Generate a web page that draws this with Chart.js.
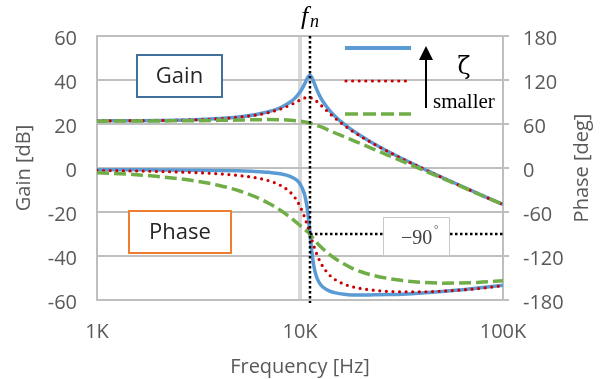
<!DOCTYPE html>
<html>
<head>
<meta charset="utf-8">
<script src="https://cdn.jsdelivr.net/npm/chart.js@4.4.1/dist/chart.umd.min.js"></script>
<style>
html,body{margin:0;padding:0;background:#ffffff;}
#wrap{width:603px;height:379px;position:relative;}
</style>
</head>
<body>
<div id="wrap"><canvas id="c" width="603" height="379"></canvas></div>
<script>
// ---------- data ----------
const freqHz = [1000,1500,2000,3000,4000,5000,6000,7000,8000,9000,9500,10000,10500,10800,11000,11200,11400,11700,12000,12500,13000,14000,15000,16500,18000,20000,23000,27000,32000,40000,50000,60000,75000,100000];

const gainBlue  = [21.4,21.5,21.6,21.9,22.5,23.2,24.2,25.6,27.4,30.1,32.0,34.5,37.9,40.4,41.7,42.2,41.4,39.0,36.4,32.8,30.1,26.1,23.2,19.9,17.3,14.5,11.1,7.6,4.2,-0.1,-4.2,-7.5,-11.5,-16.6];
const gainRed   = [21.4,21.5,21.6,21.9,22.4,23.1,24.0,25.2,26.8,28.7,29.8,30.9,31.8,32.0,32.1,32.0,31.8,31.2,30.5,29.1,27.6,24.8,22.4,19.4,16.9,14.3,11.0,7.6,4.1,-0.1,-4.3,-7.6,-11.6,-16.6];
const gainGreen = [21.3,21.35,21.4,21.5,21.65,21.8,21.95,22.0,21.95,21.7,21.5,21.3,21.0,20.8,20.6,20.45,20.2,19.9,19.5,18.9,18.3,17.0,15.8,14.2,12.8,11.0,8.6,5.9,3.0,-0.8,-4.6,-7.8,-11.7,-16.6];

const phaseBlue  = [-2.3,-2.4,-2.6,-2.9,-3.3,-3.9,-4.7,-5.9,-7.9,-11.7,-15.3,-21.6,-34.8,-50.8,-67.9,-89.7,-111.2,-133.7,-146.5,-157.2,-162.6,-167.8,-170.3,-172.2,-173.1,-173.3,-173.0,-172.6,-172.0,-170.5,-168.5,-166.5,-163.5,-160.0];
const phaseRed   = [-3.3,-4.0,-4.7,-6.2,-8.0,-10.3,-13.2,-17.3,-23.5,-33.7,-41.5,-52.1,-66.0,-75.8,-82.7,-89.7,-96.6,-106.3,-114.9,-126.5,-135.0,-146.2,-152.7,-158.5,-161.8,-164.5,-166.7,-168.2,-168.8,-168.8,-167.9,-166.7,-164.5,-160.5];
const phaseGreen = [-6.5,-8.8,-11.6,-17.4,-23.8,-31.0,-39.0,-48.0,-57.5,-68.0,-73.2,-78.3,-83.2,-86.0,-87.9,-89.7,-93.0,-97.0,-100.5,-106.0,-110.5,-118.0,-124.0,-131.0,-136.5,-141.5,-146.5,-150.5,-153.5,-156.0,-157.0,-156.8,-156.0,-153.8];

const xTickValues = [1000, 10000, 100000];
const xTickLabels = ['1K', '10K', '100K'];
const fnHz = 11200;
const refPhase = -90;

// ---------- styles ----------
const FONT = "'Open Sans', sans-serif";
const SERIF = "'Liberation Serif', 'DejaVu Serif', serif";
const TXT = '#595959';
const GRID = '#bfbfbf';
const BLUE = '#5b9bd5', RED = '#cc0000', GREEN = '#70ad47';

function pts(ys){ return freqHz.map((f,i)=>({x:f, y:ys[i]})); }

const styleBlue  = {borderColor:BLUE, borderWidth:3.5, order:2};
const styleRed   = {borderColor:RED, borderWidth:3.2, borderDash:[0,6.6], borderCapStyle:'round', order:1};
const styleGreen = {borderColor:GREEN, borderWidth:3.5, borderDash:[12,5], borderCapStyle:'butt', order:0};
const common = {pointRadius:0, fill:false, cubicInterpolationMode:'monotone'};

const annot = {
  id:'annot',
  afterDatasetsDraw(chart){
    const {ctx, chartArea:ca, scales} = chart;
    const xs = scales.x, y1 = scales.y1;
    const xf = xs.getPixelForValue(fnHz);
    const yp = y1.getPixelForValue(refPhase);
    ctx.save();
    // dotted guide lines
    ctx.strokeStyle = '#000';
    ctx.lineWidth = 2.5;
    ctx.setLineDash([2.5,2.5]);
    ctx.beginPath(); ctx.moveTo(xf, ca.top); ctx.lineTo(xf, ca.bottom+3); ctx.stroke();
    ctx.beginPath(); ctx.moveTo(xf, yp); ctx.lineTo(ca.right, yp); ctx.stroke();
    ctx.setLineDash([]);

    // -90 label box
    ctx.fillStyle = '#fff';
    ctx.fillRect(383, 217, 66, 38);
    ctx.strokeStyle = '#c8c8c8'; ctx.lineWidth = 1;
    ctx.strokeRect(383.5, 217.5, 66, 38);
    ctx.fillStyle = '#404040';
    ctx.font = '20px ' + SERIF;
    ctx.textAlign = 'left'; ctx.textBaseline = 'alphabetic';
    ctx.fillText('\u221290', 401, 244);
    ctx.font = '11px ' + SERIF;
    ctx.fillText('\u00b0', 434, 233);

    // Gain box
    ctx.fillStyle = '#fff';
    ctx.fillRect(137, 55, 85, 42);
    ctx.strokeStyle = '#41719c'; ctx.lineWidth = 2;
    ctx.strokeRect(137, 55, 85, 42);
    ctx.fillStyle = '#262626';
    ctx.font = '22px ' + FONT;
    ctx.textAlign = 'center'; ctx.textBaseline = 'middle';
    ctx.fillText('Gain', 179.5, 77);

    // Phase box
    ctx.fillStyle = '#fff';
    ctx.fillRect(129, 211, 102, 42);
    ctx.strokeStyle = '#ed7d31'; ctx.lineWidth = 2;
    ctx.strokeRect(129, 211, 102, 42);
    ctx.fillStyle = '#262626';
    ctx.fillText('Phase', 180, 233);

    // f_n label
    ctx.fillStyle = '#000';
    ctx.textAlign = 'left'; ctx.textBaseline = 'alphabetic';
    ctx.font = 'italic 26px ' + SERIF;
    ctx.fillText('f', xf - 9, 24);
    ctx.font = 'italic 18px ' + SERIF;
    ctx.fillText('n', xf + 0, 27);

    // custom legend
    ctx.lineWidth = 4; ctx.strokeStyle = BLUE;
    ctx.beginPath(); ctx.moveTo(345, 48); ctx.lineTo(411, 48); ctx.stroke();
    ctx.strokeStyle = RED; ctx.lineWidth = 3.2; ctx.lineCap = 'round'; ctx.setLineDash([0,6.6]);
    ctx.beginPath(); ctx.moveTo(346, 81); ctx.lineTo(406, 81); ctx.stroke();
    ctx.strokeStyle = GREEN; ctx.lineWidth = 3.5; ctx.lineCap = 'butt'; ctx.setLineDash([13,5]);
    ctx.beginPath(); ctx.moveTo(345, 114); ctx.lineTo(411, 114); ctx.stroke();
    ctx.setLineDash([]);
    // arrow
    ctx.strokeStyle = '#000'; ctx.lineWidth = 2;
    ctx.beginPath(); ctx.moveTo(426, 108); ctx.lineTo(426, 57); ctx.stroke();
    ctx.fillStyle = '#000';
    ctx.beginPath(); ctx.moveTo(426, 46); ctx.lineTo(419, 60); ctx.lineTo(433, 60); ctx.closePath(); ctx.fill();
    // zeta + smaller
    ctx.font = "24px 'DejaVu Serif', serif";
    ctx.textAlign = 'center';
    ctx.fillText('\u03b6', 464, 74);
    ctx.font = '21px ' + SERIF;
    ctx.textAlign = 'left';
    ctx.fillText('smaller', 433, 108);

    // right axis title (reads bottom-to-top)
    ctx.fillStyle = TXT;
    ctx.font = '20px ' + FONT;
    ctx.textAlign = 'center'; ctx.textBaseline = 'middle';
    ctx.translate(582, (ca.top + ca.bottom)/2);
    ctx.rotate(-Math.PI/2);
    ctx.fillText('Phase [deg]', 0, 0);
    ctx.restore();
  }
};

new Chart(document.getElementById('c'), {
  type:'line',
  data:{
    datasets:[
      Object.assign({label:'Gain ζ1', data:pts(gainBlue), yAxisID:'y'}, common, styleBlue),
      Object.assign({label:'Phase ζ1', data:pts(phaseBlue), yAxisID:'y1'}, common, styleBlue),
      Object.assign({label:'Gain ζ2', data:pts(gainRed), yAxisID:'y'}, common, styleRed),
      Object.assign({label:'Phase ζ2', data:pts(phaseRed), yAxisID:'y1'}, common, styleRed),
      Object.assign({label:'Gain ζ3', data:pts(gainGreen), yAxisID:'y'}, common, styleGreen),
      Object.assign({label:'Phase ζ3', data:pts(phaseGreen), yAxisID:'y1'}, common, styleGreen)
    ]
  },
  options:{
    responsive:false,
    animation:false,
    devicePixelRatio:1,
    layout:{padding:{top:36,left:0,right:0,bottom:0}},
    plugins:{legend:{display:false}, tooltip:{enabled:false}},
    scales:{
      x:{
        type:'logarithmic', min:1000, max:100000,
        afterBuildTicks:(s)=>{ s.ticks = xTickValues.map(v=>({value:v})); },
        ticks:{
          callback:(v)=>{ const i = xTickValues.indexOf(v); return i>=0 ? xTickLabels[i] : ''; },
          font:{family:FONT,size:20}, color:TXT, padding:20, maxRotation:0, autoSkip:false
        },
        grid:{
          drawTicks:false,
          color:(c)=> (c.tick && c.tick.value===10000) ? '#d9d9d9' : GRID,
          lineWidth:(c)=> (c.tick && c.tick.value===10000) ? 4 : 2
        },
        border:{color:GRID, width:2},
        title:{display:true, text:'Frequency [Hz]', font:{family:FONT,size:20}, color:TXT, padding:{top:0,bottom:0}},
        afterFit:(s)=>{ s.height = 79; }
      },
      y:{
        position:'left', min:-60, max:60,
        ticks:{stepSize:20, font:{family:FONT,size:20}, color:TXT, padding:20, labelOffset:3},
        grid:{drawTicks:false, color:GRID, lineWidth:2},
        border:{color:GRID, width:2},
        title:{display:true, text:'Gain [dB]', font:{family:FONT,size:20}, color:TXT, padding:{top:12,bottom:0}},
        afterFit:(s)=>{ s.width = 97; }
      },
      y1:{
        position:'right', min:-180, max:180,
        ticks:{stepSize:60, font:{family:FONT,size:20}, color:TXT, padding:14, labelOffset:3},
        grid:{drawOnChartArea:false, drawTicks:true, tickLength:6, tickColor:GRID, tickWidth:2, color:GRID, lineWidth:2},
        border:{color:GRID, width:2},
        title:{display:false},
        afterFit:(s)=>{ s.width = 100; }
      }
    }
  },
  plugins:[annot]
});
</script>
</body>
</html>
